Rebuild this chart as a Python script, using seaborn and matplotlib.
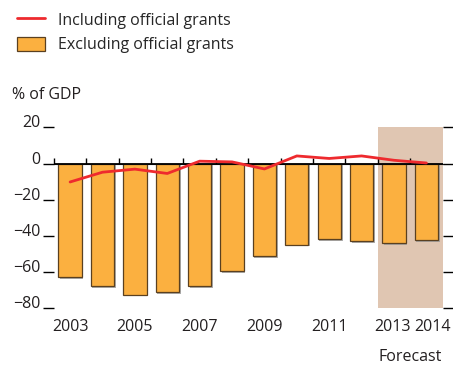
import numpy as np
import pandas as pd
import seaborn as sns
import matplotlib.pyplot as plt
import matplotlib.patheffects as pe
from matplotlib.lines import Line2D
from matplotlib.patches import Patch

years = ['2003', '2004', '2005', '2006', '2007', '2008', '2009',
         '2010', '2011', '2012', '2013', '2014']
excluding_grants = [-63, -68, -72.6, -71, -68, -59.7, -51.3, -44.8, -42, -42.8, -44.2, -42.4]
including_grants = [-10.2, -4.8, -3.1, -5.5, 1.3, 0.9, -3, 4.2, 2.8, 4.2, 1.8, 0.3]
tick_years = ['2003', '2005', '2007', '2009', '2011', '2013', '2014']
y_ticks = [20, 0, -20, -40, -60, -80]

BAR_COLOR = '#FBB040'
LINE_COLOR = '#EE2A2E'
SHADE_COLOR = '#E0C6B2'
TEXT_COLOR = '#231f20'

sns.set_style('white')
plt.rcParams['font.family'] = ['Open Sans', 'DejaVu Sans']
plt.rcParams['font.size'] = 11

df = pd.DataFrame({'year': years, 'excl': excluding_grants, 'incl': including_grants})
df['pos'] = np.arange(len(df))

fig = plt.figure(figsize=(4.53, 3.66), dpi=100)
ax = fig.add_axes([0.119, 0.158, 0.858, 0.494])

# forecast shading for the last two years
fc_start, fc_end = df['pos'].iloc[-2] - 0.5, df['pos'].iloc[-1] + 0.5
ax.axvspan(fc_start, fc_end, color=SHADE_COLOR, zorder=0, lw=0)

sns.barplot(data=df, x='pos', y='excl', color=BAR_COLOR, width=0.72,
            edgecolor='#5a4020', linewidth=0.9, saturation=1, native_scale=True, ax=ax, zorder=2)
for bar in ax.patches:
    bar.set_path_effects([pe.SimplePatchShadow(offset=(1.2, -1.2), shadow_rgbFace='#999999', alpha=0.8),
                          pe.Normal()])

sns.lineplot(data=df, x='pos', y='incl', color=LINE_COLOR, lw=2, ax=ax, zorder=4)

ax.axhline(0, color='black', lw=1.3, zorder=3)

ax.set_xlim(-0.5, len(df) - 0.5)
ax.set_ylim(-80, 20)
ax.set_yticks(y_ticks)
ax.set_yticklabels(['20', '0', '\u221220', '\u221240', '\u221260', '\u221280'])
for lab in ax.get_yticklabels():
    lab.set_verticalalignment('baseline')

# 2013 and 2014 labels sit side by side, so nudge them apart a little
tick_pos = [float(years.index(y)) for y in tick_years]
tick_pos[-2] -= 0.05
tick_pos[-1] += 0.2
ax.set_xticks(tick_pos)
ax.set_xticklabels(tick_years, fontsize=11.5, color=TEXT_COLOR)
ax.tick_params(axis='x', length=0, pad=8)
ax.tick_params(axis='y', left=True, right=True, length=8, width=1, color='black',
               labelsize=11.5, labelcolor=TEXT_COLOR, pad=2)
ax.set_xlabel('')
ax.set_ylabel('')
for s in ax.spines.values():
    s.set_visible(False)

# small ticks on the zero line between bars
zero_axis = ax.secondary_xaxis(0.8)
zero_axis.set_xticks(np.arange(len(df)) - 0.5)
zero_axis.set_xticklabels([])
zero_axis.tick_params(length=4, width=1, color='black', direction='out')
zero_axis.spines['bottom'].set_visible(False)

ax.text((fc_start + fc_end) / 2, -0.27, 'Forecast', transform=ax.get_xaxis_transform(),
        ha='center', va='center', fontsize=11.5, color=TEXT_COLOR)

handles = [Line2D([0], [0], color=LINE_COLOR, lw=2),
           Patch(facecolor=BAR_COLOR, edgecolor='#5a4020', linewidth=0.9)]
fig.legend(handles, ['Including official grants', 'Excluding official grants'],
           loc='upper left', bbox_to_anchor=(0.01, 1.0), frameon=False, fontsize=11.5,
           handlelength=1.8, handleheight=1.0, handletextpad=0.8, labelspacing=0.5,
           borderaxespad=0.35)
fig.text(0.027, 0.74, '% of GDP', fontsize=11.5, color=TEXT_COLOR, va='center')

fig.savefig('out.png', dpi=100)
